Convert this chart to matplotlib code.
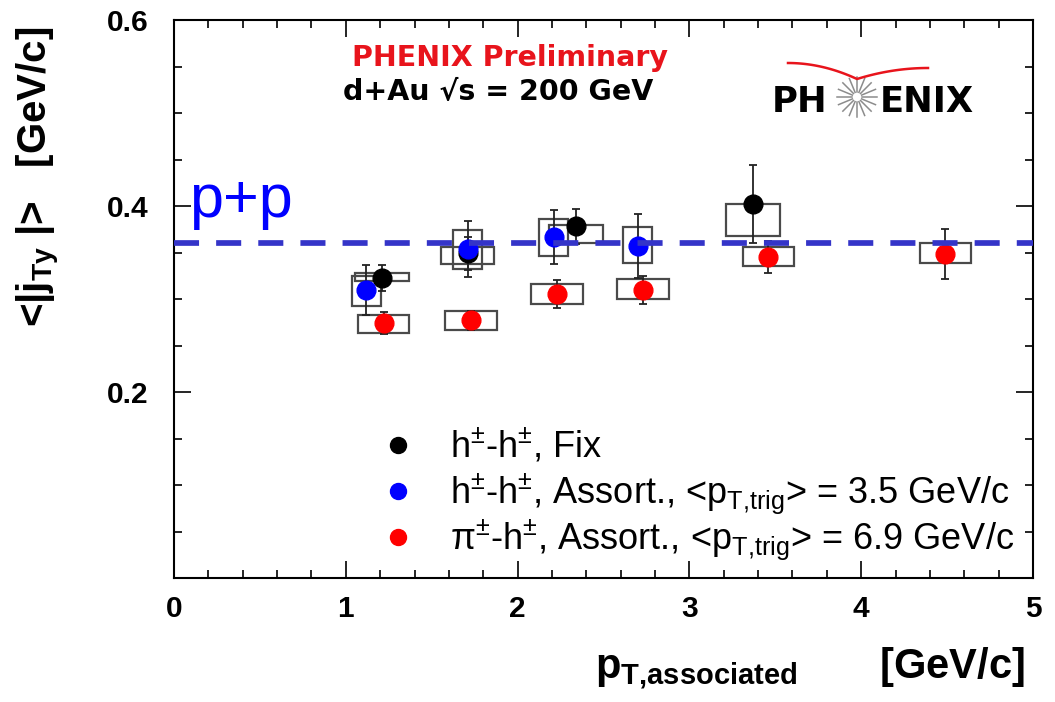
import numpy as np
import matplotlib
matplotlib.use("Agg")
import matplotlib.pyplot as plt
from matplotlib.patches import Rectangle
from matplotlib.lines import Line2D
from matplotlib.ticker import MultipleLocator, FixedLocator

plt.rcParams['font.family'] = ['Liberation Sans', 'DejaVu Sans']
plt.rcParams['mathtext.fontset'] = 'custom'
plt.rcParams['mathtext.rm'] = 'Liberation Sans'
plt.rcParams['mathtext.it'] = 'Liberation Sans:italic'
plt.rcParams['mathtext.bf'] = 'Liberation Sans:bold'

# ---- data: <|j_Ty|> vs associated pT, d+Au 200 GeV ----
# h+- - h+-, fixed trigger
fix_pt = [1.21, 1.71, 2.34, 3.37]
fix_jty = [0.323, 0.349, 0.378, 0.402]
fix_err = [0.014, 0.018, 0.019, 0.042]
fix_sys_lo = [0.319, 0.338, 0.360, 0.368]
fix_sys_hi = [0.328, 0.356, 0.380, 0.402]

# h+- - h+-, assorted, <pT,trig> = 3.5 GeV/c
hh_pt = [1.12, 1.71, 2.21, 2.70]
hh_jty = [0.310, 0.354, 0.367, 0.357]
hh_err = [0.027, 0.030, 0.029, 0.034]
hh_sys_lo = [0.292, 0.332, 0.346, 0.339]
hh_sys_hi = [0.325, 0.374, 0.386, 0.377]

# pi+- - h+-, assorted, <pT,trig> = 6.9 GeV/c
pih_pt = [1.22, 1.73, 2.23, 2.73, 3.46, 4.49]
pih_jty = [0.274, 0.277, 0.305, 0.310, 0.345, 0.348]
pih_err = [0.012, 0.010, 0.015, 0.015, 0.017, 0.027]
pih_sys_lo = [0.263, 0.267, 0.295, 0.300, 0.335, 0.339]
pih_sys_hi = [0.283, 0.287, 0.316, 0.321, 0.356, 0.360]

# p+p reference
pp_jty = 0.36

series_labels = [
    r"h$^{\pm}$-h$^{\pm}$, Fix",
    r"h$^{\pm}$-h$^{\pm}$, Assort., <p$_{\rm T{,}trig}$> = 3.5 GeV/c",
    r"π$^{\pm}$-h$^{\pm}$, Assort., <p$_{\rm T{,}trig}$> = 6.9 GeV/c",
]
x_ticks = [0, 1, 2, 3, 4, 5]
y_ticks = [0.2, 0.4, 0.6]

W, H = 1055, 702
fig = plt.figure(figsize=(W / 100, H / 100), dpi=100)
ax = fig.add_axes([174 / W, (H - 578) / H, (1033 - 174) / W, (578 - 20) / H])
ax.set_xlim(0, 5)
ax.set_ylim(0, 0.6)

series = [
    (fix_pt, fix_jty, fix_err, fix_sys_lo, fix_sys_hi, 'black', 0.31, 5),
    (hh_pt, hh_jty, hh_err, hh_sys_lo, hh_sys_hi, '#0000ff', 0.17, 6),
    (pih_pt, pih_jty, pih_err, pih_sys_lo, pih_sys_hi, '#ff0000', 0.30, 7),
]

for xs, ys, err, lo, hi, col, bw, zo in series:
    for x, l, h in zip(xs, lo, hi):
        ax.add_patch(Rectangle((x - bw / 2, l), bw, h - l, fill=False,
                               ec='#4a4a4a', lw=1.6, zorder=2))
    ax.errorbar(xs, ys, yerr=err, fmt='none', ecolor='#222222',
                elinewidth=1.3, capsize=3, capthick=1.3, zorder=3)
for xs, ys, err, lo, hi, col, bw, zo in series:
    ax.plot(xs, ys, 'o', color=col, mec=col, ms=13.5, zorder=zo)

# p+p reference line
ax.axhline(pp_jty, color='#3434c8', lw=4.1, dashes=(4.4, 3.0),
           dash_capstyle='butt', zorder=10)
ax.text(0.085, 0.388, "p+p", color='#0000ff', fontsize=44,
        ha='left', va='baseline')

# legend
leg_y = [0.143, 0.0935, 0.0445]
for (xs, ys, err, lo, hi, col, bw, zo), lab, yy in zip(series, series_labels, leg_y):
    ax.plot([1.304], [yy], 'o', color=col, mec=col, ms=11.5, zorder=5)
    ax.text(1.607, yy - 0.0125, lab, fontsize=26, ha='left', va='baseline')

# header texts
ax.text(1.956, 0.5505, "PHENIX Preliminary", color='#e8141c', fontsize=20.5,
        fontweight='bold', family='DejaVu Sans', ha='center', va='baseline')
ax.text(1.886, 0.514, "d+Au \u221as = 200 GeV", color='black', fontsize=20.5,
        fontweight='bold', family='DejaVu Sans', ha='center', va='baseline')

# PHENIX logo
def fpx(x, y):
    return x / W, 1 - y / H

fig.text(*fpx(772, 112), "PH", fontsize=25.5, fontweight='bold',
         family='DejaVu Sans', ha='left', va='baseline')
fig.text(*fpx(880, 112), "ENIX", fontsize=25.5, fontweight='bold',
         family='DejaVu Sans', ha='left', va='baseline')
cx, cy = 857, 97
for ang in np.linspace(0, 2 * np.pi, 16, endpoint=False):
    x0, y0 = cx + 5 * np.cos(ang), cy + 5 * np.sin(ang)
    x1, y1 = cx + 20 * np.cos(ang), cy + 20 * np.sin(ang)
    fig.add_artist(Line2D([x0 / W, x1 / W], [1 - y0 / H, 1 - y1 / H],
                          color='#8c8c8c', lw=1.1, transform=fig.transFigure))
t = np.linspace(0, 1, 40)
lx = 788 + 69 * t
ly = 63 + 16 * t ** 2
rx = 857 + 71 * t
ry = 68 + 11 * (1 - t) ** 2
wx = np.concatenate([lx, rx])
wy = np.concatenate([ly, ry])
fig.add_artist(Line2D(wx / W, 1 - wy / H, color='#e8141c', lw=1.8,
                      transform=fig.transFigure))

# axes styling
for sp in ax.spines.values():
    sp.set_linewidth(1.5)
ax.xaxis.set_major_locator(FixedLocator(x_ticks))
ax.xaxis.set_minor_locator(MultipleLocator(0.2))
ax.yaxis.set_major_locator(FixedLocator(y_ticks))
ax.yaxis.set_minor_locator(MultipleLocator(0.05))
ax.set_xticklabels([str(v) for v in x_ticks])
ax.set_yticklabels([f"{v:.1f}" for v in y_ticks])
ax.tick_params(which='both', direction='in', top=True, right=True, width=1.2)
ax.tick_params(which='major', length=12)
ax.tick_params(which='minor', length=6)
ax.tick_params(axis='x', pad=12, labelsize=21.5)
ax.tick_params(axis='y', pad=18, labelsize=21.5)
for lb in ax.get_xticklabels() + ax.get_yticklabels():
    lb.set_fontweight('bold')

ax.set_xlabel(r"p$_{\mathbf{T{,}associated}}$       [GeV/c]", fontsize=30,
              fontweight='bold', ha='right')
ax.xaxis.set_label_coords((1025 - 174) / 859, (578 - 645) / 558)
ax.set_ylabel(r"<|j$_{\mathbf{Ty}}$ |>   [GeV/c]", fontsize=29,
              fontweight='bold')
ax.yaxis.set_label_coords((62 - 174) / 859, (578 - 177) / 558)

fig.savefig("out.png", dpi=100)
